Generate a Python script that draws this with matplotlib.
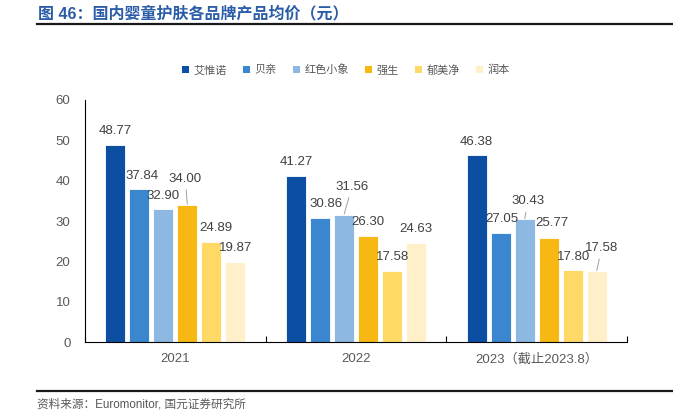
import matplotlib
matplotlib.use("Agg")
import matplotlib.pyplot as plt
from matplotlib.patches import Patch
import numpy as np

plt.rcParams['font.family'] = ['Liberation Sans', 'Noto Sans CJK SC', 'DejaVu Sans']

categories = ['2021', '2022', '2023（截止2023.8）']
brands = ['艾惟诺', '贝亲', '红色小象', '强生', '郁美净', '润本']
values = {
    '艾惟诺': [48.77, 41.27, 46.38],
    '贝亲': [37.84, 30.86, 27.05],
    '红色小象': [32.90, 31.56, 30.43],
    '强生': [34.00, 26.30, 25.77],
    '郁美净': [24.89, 17.58, 17.80],
    '润本': [19.87, 24.63, 17.58],
}
yticks = [0, 10, 20, 30, 40, 50, 60]

colors = ['#0B4EA2', '#3A86CF', '#8DB8E1', '#F7B813', '#FFD966', '#FFF0C9']
# label offsets in pixels (dx, dy above bar top), leader line flag
label_off = [
    [(0, 14, False), (3, 13, False), (0, 13, False), (-2, 26, True), (5, 14, False), (0, 14, False)],
    [(0, 14, False), (6, 14, False), (8, 28, True), (0, 14, False), (1, 14, False), (0, 14, False)],
    [(0, 13, False), (1, 14, False), (3, 18, True), (3, 15, False), (1, 13, False), (5, 23, True)],
]

W, H = 673, 419
fig = plt.figure(figsize=(W / 100, H / 100), dpi=100)
ax = fig.add_axes([85 / W, (H - 342) / H, (627 - 85) / W, (342 - 100) / H])

x = np.arange(len(categories))
step = 24 / 180.7
bw = 20 / 180.7
label_color = '#404040'
px = 0.72  # points per pixel

for i, b in enumerate(brands):
    pos = x + (i - 2.5) * step
    ax.bar(pos, values[b], width=bw, color=colors[i], edgecolor='white', linewidth=0.6, zorder=2)
    for g, (xx, v) in enumerate(zip(pos, values[b])):
        dx, dy, line = label_off[g][i]
        kw = dict(xy=(xx, v), xytext=(dx * px, dy * px), textcoords='offset points',
                  ha='center', va='center', fontsize=9.5, color=label_color)
        if line:
            kw['arrowprops'] = dict(arrowstyle='-', color='#A0A0A0', lw=0.7, shrinkA=1.5, shrinkB=0.5)
        ax.annotate(f'{v:.2f}', **kw)

ax.set_xlim(-0.5, len(categories) - 0.5)
ax.set_ylim(0, 60)
ax.set_yticks(yticks)
ax.set_yticklabels([str(t) for t in yticks], fontsize=9.5, color='#595959')
ax.tick_params(axis='y', length=0, pad=10.5)
ax.set_xticks(x)
ax.set_xticklabels(categories, fontsize=9.5, color='#595959')
ax.tick_params(axis='x', length=0, pad=8)
ax.set_xticks(np.arange(len(categories) + 1) - 0.5, minor=True)
ax.tick_params(axis='x', which='minor', direction='in', length=4, color='#000000', width=0.8)
for s in ['top', 'right']:
    ax.spines[s].set_visible(False)
ax.spines['left'].set_color('#000000')
ax.spines['left'].set_linewidth(0.8)
ax.spines['bottom'].set_color('#000000')
ax.spines['bottom'].set_linewidth(0.8)

handles = [Patch(facecolor=c, edgecolor='none') for c in colors]
fig.legend(handles, brands, loc='center', bbox_to_anchor=(346 / W, (H - 70) / H), ncol=6,
           frameon=False, handlelength=0.63, handleheight=0.63, handletextpad=0.36,
           columnspacing=1.5, labelcolor='#595959', borderpad=0,
           prop={'family': ['Noto Sans CJK SC'], 'size': 8})

fig.text(38 / W, (H - 13) / H, '图 46：国内婴童护肤各品牌产品均价（元）', fontsize=11.5, fontweight='bold',
         color='#2A5CA8', ha='left', va='center', family=['Liberation Sans', 'Noto Sans CJK SC'])
fig.add_artist(plt.Line2D([37 / W, 1], [(H - 24) / H] * 2, color='#1A1A1A', lw=1.6))
fig.add_artist(plt.Line2D([37 / W, 1], [(H - 391) / H] * 2, color='#1A1A1A', lw=1.6))
fig.text(37 / W, (H - 404) / H, '资料来源：Euromonitor, 国元证券研究所', fontsize=8.4, color='#595959',
         ha='left', va='center', family=['Liberation Sans', 'Noto Sans CJK SC'])

fig.savefig('out.png', dpi=100)
